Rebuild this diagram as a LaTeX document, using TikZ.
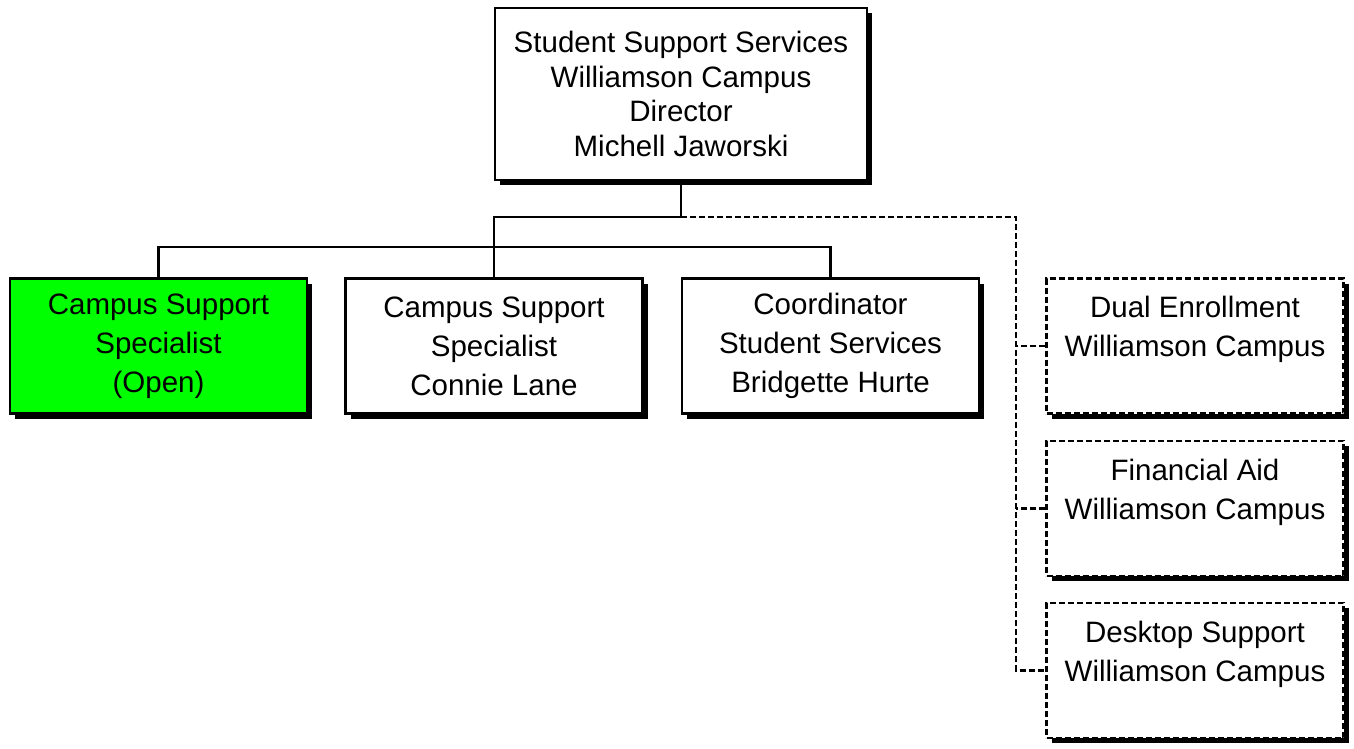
\documentclass[tikz,border=0pt]{standalone}
\usepackage{fontspec}
\setmainfont{Liberation Sans}
\usetikzlibrary{shadows}
\definecolor{boxgreen}{RGB}{0,255,0}
\tikzset{
  orgbox/.style={draw=black, line width=2.5pt, fill=white, inner sep=0pt,
    minimum width=297pt, minimum height=135pt, align=center,
    font=\fontsize{29.5}{39}\selectfont,
    drop shadow={shadow xshift=5pt, shadow yshift=-5pt, opacity=1, fill=black}},
  topbox/.style={orgbox, minimum width=372pt, minimum height=172pt,
    font=\fontsize{29.5}{34.5}\selectfont},
  dashbox/.style={orgbox, dash pattern=on 6pt off 3pt},
  link/.style={draw=black, line width=2.5pt},
  dlink/.style={link, dash pattern=on 6pt off 3pt}
}
\begin{document}
\begin{tikzpicture}[x=1pt,y=-1pt]
\useasboundingbox (0,0) rectangle (1354,749);
\node[topbox] (top) at (681,94) {Student Support Services\\Williamson Campus\\Director\\Michell Jaworski};
\node[orgbox, fill=boxgreen] (g) at (158.5,346) {Campus Support\\Specialist\\(Open)};
\node[orgbox] (c) at (494,346) {Campus Support\\Specialist\\Connie Lane};
\node[orgbox] (b) at (830.5,346) {Coordinator\\Student Services\\Bridgette Hurte};
\node[dashbox] (d1) at (1195,346) {Dual Enrollment\\Williamson Campus\\\mbox{}};
\node[dashbox] (d2) at (1195,508.5) {Financial Aid\\Williamson Campus\\\mbox{}};
\node[dashbox] (d3) at (1195,670.5) {Desktop Support\\Williamson Campus\\\mbox{}};
\coordinate (j1) at (top.south |- 0,217);
\coordinate (j2) at (c.north |- 0,217);
\coordinate (bar) at (0,247);
\coordinate (dv) at (1016,217);
\draw[link] (top.south) -- (j1) -- (j2) -- (c.north);
\draw[link] (g.north) -- (g.north |- bar) -| (b.north);
\draw[dlink] (j1) -- (dv) |- (d3.west);
\draw[dlink] (d1.west) -- (d1.west -| dv);
\draw[dlink] (d2.west) -- (d2.west -| dv);
\end{tikzpicture}
\end{document}
